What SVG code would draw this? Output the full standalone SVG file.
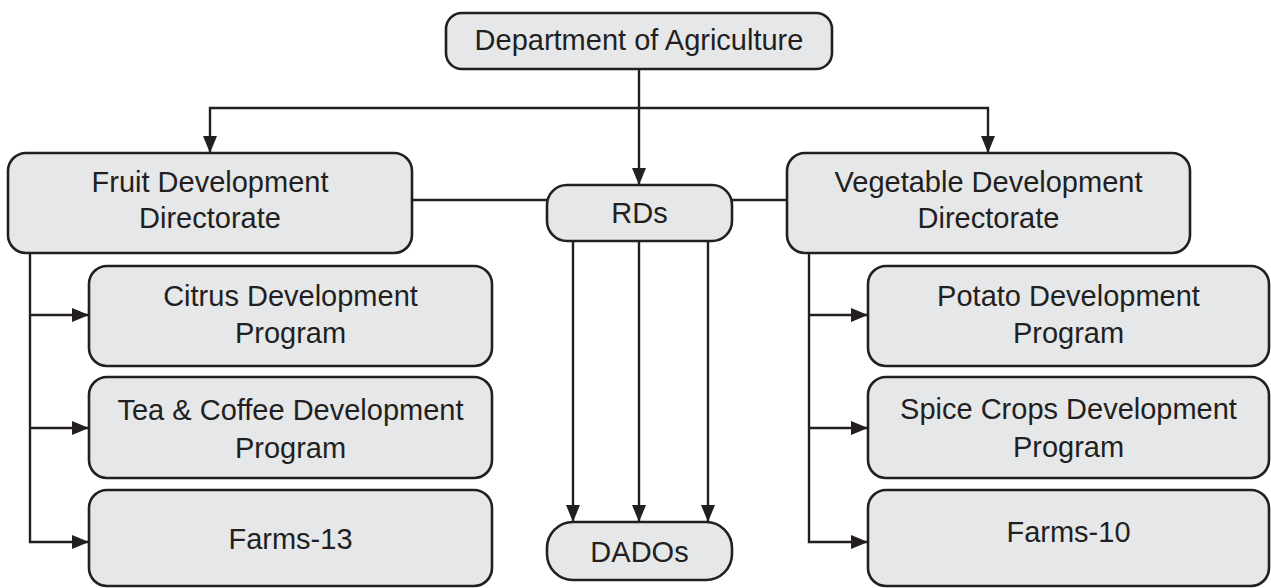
<svg xmlns="http://www.w3.org/2000/svg" width="1271" height="588" viewBox="0 0 1271 588">
  <style>
    .box { fill: #e6e7e8; stroke: #231f20; stroke-width: 2.6; }
    .lbl { font-family: "Liberation Sans", Arial, sans-serif; font-size: 29px; fill: #231f20; text-anchor: middle; }
    .ln { fill: none; stroke: #231f20; stroke-width: 2.4; }
  </style>
  <defs>
    <marker id="arrow" markerUnits="userSpaceOnUse" markerWidth="18" markerHeight="14" refX="17" refY="7" orient="auto">
      <path d="M0,0 L17,7 L0,14 Z" fill="#231f20"/>
    </marker>
  </defs>
  <rect width="1271" height="588" fill="#ffffff"/>

  <!-- connectors -->
  <g id="connectors">
    <!-- department to the two directorates and RDs -->
    <line class="ln" x1="639" y1="69" x2="639" y2="185" marker-end="url(#arrow)"/>
    <polyline class="ln" points="639,108 210,108 210,153" marker-end="url(#arrow)"/>
    <polyline class="ln" points="639,108 988,108 988,153" marker-end="url(#arrow)"/>
    <!-- directorates linked to RDs -->
    <line class="ln" x1="412" y1="200" x2="547" y2="200"/>
    <line class="ln" x1="732" y1="200" x2="787" y2="200"/>
    <!-- RDs to DADOs -->
    <line class="ln" x1="573" y1="241" x2="573" y2="522" marker-end="url(#arrow)"/>
    <line class="ln" x1="639" y1="241" x2="639" y2="522" marker-end="url(#arrow)"/>
    <line class="ln" x1="708" y1="241" x2="708" y2="522" marker-end="url(#arrow)"/>
    <!-- fruit directorate branches -->
    <polyline class="ln" points="30,253 30,542 89,542" marker-end="url(#arrow)"/>
    <line class="ln" x1="30" y1="315" x2="89" y2="315" marker-end="url(#arrow)"/>
    <line class="ln" x1="30" y1="428" x2="89" y2="428" marker-end="url(#arrow)"/>
    <!-- vegetable directorate branches -->
    <polyline class="ln" points="809,253 809,542 868,542" marker-end="url(#arrow)"/>
    <line class="ln" x1="809" y1="315" x2="868" y2="315" marker-end="url(#arrow)"/>
    <line class="ln" x1="809" y1="428" x2="868" y2="428" marker-end="url(#arrow)"/>
  </g>

  <g id="dept">
    <rect class="box" x="446" y="13" width="386" height="56" rx="16"/>
    <text class="lbl" x="639" y="50">Department of Agriculture</text>
  </g>

  <g id="fruit">
    <rect class="box" x="8" y="153" width="404" height="100" rx="18"/>
    <text class="lbl" x="210" y="192">Fruit Development</text>
    <text class="lbl" x="210" y="228">Directorate</text>
  </g>

  <g id="rds">
    <rect class="box" x="547" y="185" width="185" height="56" rx="20"/>
    <text class="lbl" x="639.5" y="223">RDs</text>
  </g>

  <g id="vegetable">
    <rect class="box" x="787" y="153" width="403" height="100" rx="18"/>
    <text class="lbl" x="988.5" y="192">Vegetable Development</text>
    <text class="lbl" x="988.5" y="228">Directorate</text>
  </g>

  <g id="citrus">
    <rect class="box" x="89" y="266" width="403" height="100" rx="18"/>
    <text class="lbl" x="290.5" y="306">Citrus Development</text>
    <text class="lbl" x="290.5" y="343">Program</text>
  </g>

  <g id="teacoffee">
    <rect class="box" x="89" y="377" width="403" height="101" rx="18"/>
    <text class="lbl" x="290.5" y="420">Tea &amp; Coffee Development</text>
    <text class="lbl" x="290.5" y="458">Program</text>
  </g>

  <g id="farms13">
    <rect class="box" x="89" y="490" width="403" height="96" rx="18"/>
    <text class="lbl" x="290.5" y="549">Farms-13</text>
  </g>

  <g id="dados">
    <rect class="box" x="547" y="522" width="185" height="58" rx="26"/>
    <text class="lbl" x="639.5" y="562">DADOs</text>
  </g>

  <g id="potato">
    <rect class="box" x="868" y="266" width="401" height="100" rx="18"/>
    <text class="lbl" x="1068.5" y="306">Potato Development</text>
    <text class="lbl" x="1068.5" y="343">Program</text>
  </g>

  <g id="spice">
    <rect class="box" x="868" y="377" width="401" height="101" rx="18"/>
    <text class="lbl" x="1068.5" y="419">Spice Crops Development</text>
    <text class="lbl" x="1068.5" y="457">Program</text>
  </g>

  <g id="farms10">
    <rect class="box" x="868" y="490" width="401" height="96" rx="18"/>
    <text class="lbl" x="1068.5" y="542">Farms-10</text>
  </g>
</svg>
